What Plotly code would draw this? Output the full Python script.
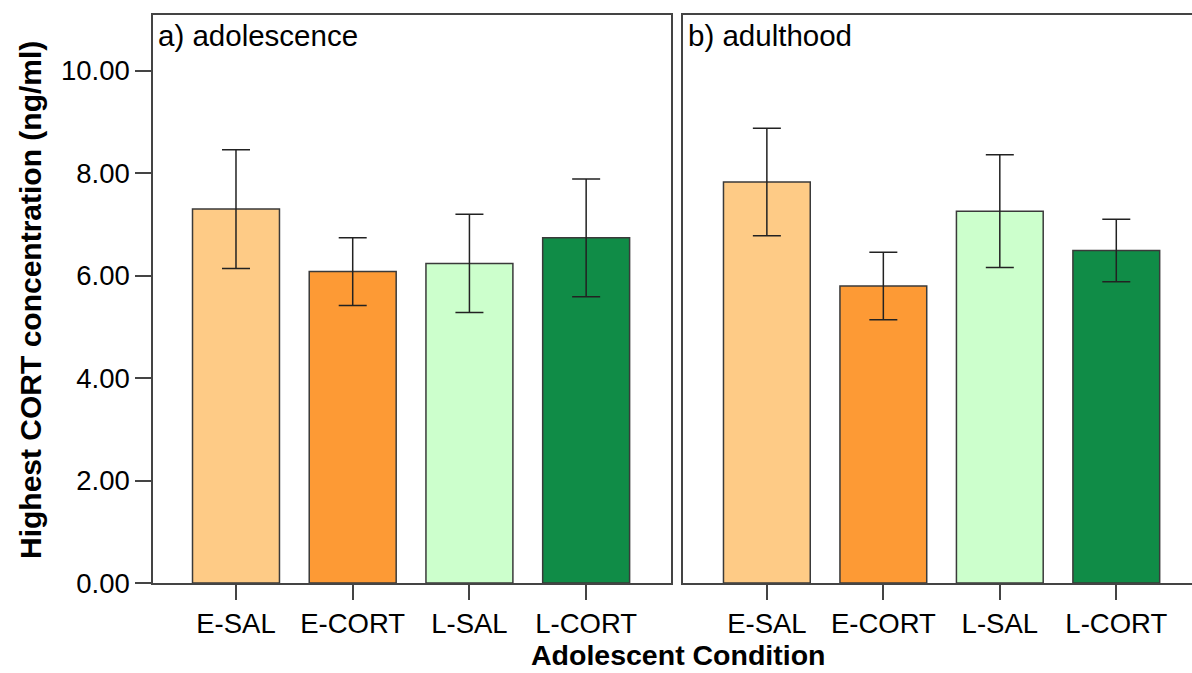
import plotly.graph_objects as go

categories = ["E-SAL", "E-CORT", "L-SAL", "L-CORT"]
colors = ["#FECB86", "#FD9A35", "#CCFFCC", "#108C47"]

adol_mean = [7.30, 6.08, 6.24, 6.74]
adol_err = [1.16, 0.66, 0.96, 1.15]
adult_mean = [7.83, 5.80, 7.26, 6.49]
adult_err = [1.05, 0.66, 1.10, 0.61]

y_ticks = [0, 2, 4, 6, 8, 10]

FONT = "Liberation Sans, Arial, sans-serif"

fig = go.Figure()

def add_panel(means, errs, xa, ya):
    fig.add_trace(go.Bar(
        x=categories, y=means,
        marker=dict(color=colors, line=dict(color="#3a3a3a", width=1.5)),
        error_y=dict(type="data", array=errs, visible=True,
                     color="#222222", thickness=1.5, width=14),
        xaxis=xa, yaxis=ya, showlegend=False,
    ))

add_panel(adol_mean, adol_err, "x", "y")
add_panel(adult_mean, adult_err, "x2", "y2")

W, H = 1192, 673
L, R, T, B = 153, 0, 15, 90
pw = W - L - R
ph = H - T - B
dom_a = [0, (671 - L) / pw]
dom_b = [(683 - L) / pw, 1]

xcommon = dict(type="category", showline=True, linecolor="#444444", linewidth=1.5,
               ticks="outside", ticklen=15, tickwidth=1.5, tickcolor="#444444",
               tickfont=dict(family=FONT, size=27.5, color="black"),
               showgrid=False, zeroline=False, fixedrange=True)

fig.update_layout(
    width=W, height=H,
    margin=dict(l=L, r=R, t=T, b=B, pad=0),
    paper_bgcolor="white", plot_bgcolor="white",
    bargap=0.255,
    xaxis=dict(domain=dom_a, range=[-0.711, 3.727], mirror=True, anchor="y", **xcommon),
    xaxis2=dict(domain=dom_b, range=[-0.72, 3.65], mirror=True, anchor="y2", **xcommon),
    yaxis=dict(domain=[0, 1], range=[0, 11.09], anchor="x",
               showline=True, mirror=True, linecolor="#444444", linewidth=1.5,
               ticks="outside", ticklen=16, tickwidth=1.5, tickcolor="#444444",
               tickvals=y_ticks, tickformat=".2f",
               tickfont=dict(family=FONT, size=27.5, color="black"),
               showgrid=False, zeroline=False),
    yaxis2=dict(domain=[0, 1], range=[0, 11.09], anchor="x2",
                showline=True, mirror=False, linecolor="#444444", linewidth=1.5,
                showticklabels=False, ticks="", showgrid=False, zeroline=False),
    annotations=[
        dict(text="a) adolescence", xref="x domain", yref="y domain", x=0.006, y=0.997,
             xanchor="left", yanchor="top", showarrow=False,
             font=dict(family=FONT, size=29.5, color="black")),
        dict(text="b) adulthood", xref="x2 domain", yref="y2 domain", x=0.006, y=0.997,
             xanchor="left", yanchor="top", showarrow=False,
             font=dict(family=FONT, size=29.5, color="black")),
        dict(text="<b>Highest CORT concentration (ng/ml)</b>", xref="paper", yref="paper",
             x=-(L - 30) / pw, y=(H - B - 300) / ph, xanchor="center", yanchor="middle",
             textangle=-90, showarrow=False,
             font=dict(family=FONT, size=30, color="black")),
        dict(text="<b>Adolescent Condition</b>", xref="paper", yref="paper",
             x=(678 - L) / pw, y=-B / ph, xanchor="center", yanchor="bottom",
             showarrow=False, font=dict(family=FONT, size=28.5, color="black")),
    ],
)

fig.write_html("out.html")
